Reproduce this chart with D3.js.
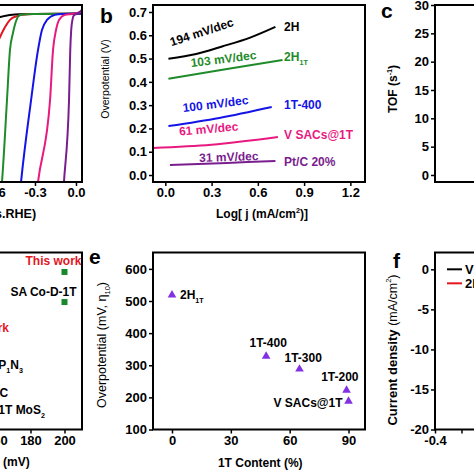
<!DOCTYPE html>
<html>
<head>
<meta charset="utf-8">
<script src="https://cdn.jsdelivr.net/npm/d3@7"></script>
<style>
    body { margin: 0; background: #fff; }
    svg { display: block; font-family: 'Liberation Sans', Arial, sans-serif; }
</style>
</head>
<body>
<svg id="chart" width="474" height="474"></svg>
<script>
// ---------- data ----------
// a: polarization curves [potential V vs RHE, current density mA/cm2]
const lsv2H    = [[-1.2, -6], [-0.7, -2], [-0.556, -0.7], [-0.483, -0.24], [-0.41, -0.05], [-0.3, 0], [0.05, 0.1]];
const lsvRed   = [[-0.8, -25], [-0.65, -13], [-0.556, -5.5], [-0.519, -3.1], [-0.483, -1.4], [-0.432, -0.5], [-0.358, -0.05], [-0.3, 0], [0.05, 0.1]];
const lsv2H1T  = [[-0.58, -50], [-0.541, -39.8], [-0.505, -20.6], [-0.483, -8.6], [-0.461, -4.5], [-0.41, -0.24], [-0.358, -0.03], [-0.3, 0], [0.05, 0.1]];
const lsv1T400 = [[-0.42, -46], [-0.402, -40], [-0.329, -20.6], [-0.278, -8.6], [-0.249, -3.8], [-0.212, -1.4], [-0.154, -0.2], [-0.1, 0], [0.05, 0.1]];
const lsvVSAC  = [[-0.3, -46], [-0.278, -40], [-0.19, -20.6], [-0.168, -8.6], [-0.146, -3.8], [-0.124, -1.4], [-0.08, -0.2], [-0.03, 0], [0.05, 0.6]];
const lsvPtC   = [[-0.1, -46], [-0.088, -40], [-0.051, -20.6], [-0.042, -8.6], [-0.035, -3.8], [-0.026, -1.4], [-0.015, -0.3], [0.015, 0.2], [0.05, 1.2]];
const lsvTicksX = [-0.6, -0.3, 0.0];

// b: Tafel plots [log j, overpotential V]
const tafelNames  = ['2H', '2H_{1T}', '1T-400', 'V SACs@1T', 'Pt/C 20%'];
const tafelSlopes = ['194 mV/dec', '103 mV/dec', '100 mV/dec', '61 mV/dec', '31 mV/dec'];
const tafel2H     = [[0.02, 0.499], [0.2, 0.52], [0.368, 0.552], [0.55, 0.59], [0.714, 0.636]];
const tafel2H1T   = [[0.02, 0.413], [0.4, 0.455], [0.76, 0.494]];
const tafel1T400  = [[0.02, 0.21], [0.35, 0.245], [0.69, 0.292]];
const tafelVSAC   = [[-0.1, 0.116], [0.3, 0.13], [0.73, 0.163]];
const tafelPtC    = [[0.03, 0.043], [0.4, 0.052], [0.714, 0.06]];
const tafelTicksX = [0.0, 0.3, 0.6, 0.9, 1.2];
const tafelTicksY = [0.0, 0.1, 0.2, 0.3, 0.4, 0.5, 0.6, 0.7];

// c: TOF
const tofTicksY = [0, 5, 10, 15, 20, 25, 30];

// d: comparison with reported catalysts
const compNames = ['This work', 'SA Co-D-1T', 'This work', 'Co_{1}P_{1}N_{3}', 'Pt/C', 'Co-1T MoS_{2}'];
const compX     = [200, 200, 129.7, 144.6, 148, 144.6];
const compY     = [8.9, 7.2, 5.73, 3.64, 2.06, 1.1];
const compTicksX = [100, 120, 140, 160, 180, 200];

// e: overpotential vs 1T content
const contentNames = ['2H_{1T}', '1T-400', '1T-300', '1T-200', 'V SACs@1T'];
const contentX = [0, 48, 65, 89, 90];
const contentY = [519, 328, 288, 222, 188];
const contentTicksX = [0, 30, 60, 90];
const contentTicksY = [100, 200, 300, 400, 500, 600];

// f: legend + axes
const fLegend = ['V SACs@1T', '2H_{1T}'];
const fTicksY = [0, -5, -10, -15, -20];

// ---------- styles / layout ----------
const black = '#000', red = '#e3161f', green = '#1f8b2a', blue = '#1414e6',
      pink = '#e8197f', purple = '#7a1d8e', violet = '#8230e4', sqGreen = '#18892b';
const lsvSeries = [[lsv2H, black], [lsvRed, red], [lsv2H1T, green], [lsv1T400, blue], [lsvVSAC, pink], [lsvPtC, purple]];
const tafelSeries = [tafel2H, tafel2H1T, tafel1T400, tafelVSAC, tafelPtC];
const tafelColors = [black, green, blue, pink, purple];
// slope annotation: centre (px) and rotation
const tafelNote = [[203, 36, -18], [224, 63, -7], [216, 108, -7], [209, 133, -5], [229, 161, -2]];
const tafelLabelY = [31, 61, 109, 139, 166];
// d label placement [dx, dy, anchor]
const compLab = [[-11, -7, 'middle'], [-21, -6, 'middle'], [8, 4, 'start'], [8, 4, 'start'], [8, 4, 'start'], [8, 4, 'start']];
// e label placement
const contentLab = [[8, 4, 'start'], [2, -9, 'middle'], [-15, -7, 'start'], [12, -9, 'end'], [-6, 6, 'end']];

const W = 212, H = 177;
const rowTop = [5, 252.5];
const colLeft = [-130, 153, 435];
const tickFont = 13, labFont = 12;

const svg = d3.select('#chart');

// subscripts / superscripts written as _{..} and ^{..}
const richText = (text, str, fs) => {
    const parts = str.split(/(_\{[^}]*\}|\^\{[^}]*\})/).filter(s => s !== '');
    let off = 0;
    parts.forEach(p => {
        let dy = 0, size = fs, t = p;
        if (p[0] === '_') { t = p.slice(2, -1); dy = fs * 0.3; size = fs * 0.6; }
        else if (p[0] === '^') { t = p.slice(2, -1); dy = -fs * 0.45; size = fs * 0.6; }
        text.append('tspan').attr('dy', dy - off).attr('font-size', size).text(t);
        off = dy;
    });
};

const makePanel = (col, row) => svg.append('g')
    .attr('transform', `translate(${colLeft[col]},${rowTop[row]})`);

const frame = g => g.append('rect')
    .attr('width', W).attr('height', H)
    .attr('fill', 'none').attr('stroke', '#000').attr('stroke-width', 2);

const styleAxis = (sel) => {
    sel.select('.domain').remove();
    sel.selectAll('.tick line').attr('stroke', '#000').attr('stroke-width', 1.5);
    sel.selectAll('.tick text')
        .attr('font-size', tickFont).attr('font-weight', 'bold')
        .attr('font-family', 'Liberation Sans, Arial, sans-serif').attr('fill', '#000');
};

const xAxis = (g, x, ticks, fmt) => {
    g.append('g').attr('transform', `translate(0,${H})`)
        .call(d3.axisBottom(x).tickValues(ticks).tickSize(4).tickPadding(2).tickFormat(fmt))
        .call(styleAxis);
};
const yAxis = (g, y, ticks, fmt) => {
    g.append('g')
        .call(d3.axisLeft(y).tickValues(ticks).tickSize(4).tickPadding(2).tickFormat(fmt))
        .call(styleAxis);
};

const panelLetter = (x, y, s) => svg.append('text')
    .attr('x', x).attr('y', y).attr('font-size', 21).attr('font-weight', 'bold').text(s);

const fmt1 = d => d.toFixed(1);
const fmt0 = d => String(d);

// ---------- a ----------
{
    const g = makePanel(0, 0);
    const x = d3.scaleLinear().domain([-1.507, 0.044]).range([0, W]);
    const y = d3.scaleLinear().domain([-40, 2.15]).range([H, 0]);
    const clip = svg.append('clipPath').attr('id', 'clipA');
    clip.append('rect').attr('width', W).attr('height', H);
    const line = d3.line().x(d => x(d[0])).y(d => y(d[1])).curve(d3.curveMonotoneX);
    const lines = g.append('g').attr('clip-path', 'url(#clipA)');
    lsvSeries.forEach(([d, c]) => {
        lines.append('path').attr('d', line(d))
            .attr('fill', 'none').attr('stroke', c).attr('stroke-width', 2);
    });
    frame(g);
    xAxis(g, x, lsvTicksX, fmt1);
    g.append('text').attr('x', W / 2).attr('y', H + 36).attr('text-anchor', 'middle')
        .attr('font-size', labFont + 0.5).attr('font-weight', 'bold').text('Potential (V vs.RHE)');
}

// ---------- b ----------
{
    const g = makePanel(1, 0);
    const x = d3.scaleLinear().domain([-0.08, 1.295]).range([0, W]);
    const y = d3.scaleLinear().domain([-0.03, 0.73]).range([H, 0]);
    const line = d3.line().x(d => x(d[0])).y(d => y(d[1])).curve(d3.curveMonotoneX);
    const clip = svg.append('clipPath').attr('id', 'clipB');
    clip.append('rect').attr('width', W).attr('height', H);
    const lines = g.append('g').attr('clip-path', 'url(#clipB)');
    tafelSeries.forEach((d, i) => {
        lines.append('path').attr('d', line(d))
            .attr('fill', 'none').attr('stroke', tafelColors[i]).attr('stroke-width', 2);
    });
    tafelSlopes.forEach((s, i) => {
        const [cx, cy, r] = tafelNote[i];
        svg.append('text').attr('transform', `translate(${cx},${cy}) rotate(${r})`)
            .attr('text-anchor', 'middle').attr('font-size', labFont).attr('font-weight', 'bold')
            .attr('fill', tafelColors[i]).text(s);
    });
    tafelNames.forEach((s, i) => {
        const t = g.append('text').attr('x', x(0.77)).attr('y', tafelLabelY[i] - rowTop[0])
            .attr('font-size', labFont).attr('font-weight', 'bold').attr('fill', tafelColors[i]);
        richText(t, s, labFont);
    });
    frame(g);
    xAxis(g, x, tafelTicksX, fmt1);
    yAxis(g, y, tafelTicksY, fmt1);
    const t = g.append('text').attr('x', W / 2 + 3).attr('y', H + 36).attr('text-anchor', 'middle')
        .attr('font-size', labFont).attr('font-weight', 'bold');
    richText(t, 'Log[ j (mA/cm^{2})]', labFont);
    g.append('text').attr('transform', `translate(-44,${79 - rowTop[0]}) rotate(-90)`)
        .attr('text-anchor', 'middle').attr('font-size', 10.5).text('Overpotential (V)');
    panelLetter(100, 23, 'b');
}

// ---------- c ----------
{
    const g = makePanel(2, 0);
    const y = d3.scaleLinear().domain([-1.24, 30]).range([H, 0]);
    frame(g);
    yAxis(g, y, tofTicksY, fmt0);
    const t = g.append('text').attr('transform', `translate(-38,${89 - rowTop[0]}) rotate(-90)`)
        .attr('text-anchor', 'middle').attr('font-size', labFont).attr('font-weight', 'bold');
    richText(t, 'TOF (s^{-1})', labFont);
    panelLetter(381, 18, 'c');
}

// ---------- d ----------
{
    const g = makePanel(0, 1);
    const x = d3.scaleLinear().domain([85.6, 210.3]).range([0, W]);
    const y = d3.scaleLinear().domain([0, 10]).range([H, 0]);
    g.append('g').selectAll('path')
        .data(compX.slice(0, 2))
        .join('path')
        .attr('transform', (d, i) => `translate(${x(d)},${y(compY[i])})`)
        .attr('d', d3.symbol(d3.symbolSquare, 36))
        .attr('fill', sqGreen);
    compNames.forEach((s, i) => {
        const [dx, dy, anchor] = compLab[i];
        const t = g.append('text').attr('x', x(compX[i]) + dx).attr('y', y(compY[i]) + dy)
            .attr('text-anchor', anchor).attr('font-size', labFont).attr('font-weight', 'bold')
            .attr('fill', s === 'This work' ? red : '#000');
        richText(t, s, labFont);
    });
    frame(g);
    xAxis(g, x, compTicksX, fmt0);
    g.append('text').attr('x', W / 2).attr('y', H + 36).attr('text-anchor', 'middle')
        .attr('font-size', labFont).attr('font-weight', 'bold').text('Overpotential (mV)');
}

// ---------- e ----------
{
    const g = makePanel(1, 1);
    const x = d3.scaleLinear().domain([-9.68, 98.4]).range([0, W]);
    const y = d3.scaleLinear().domain([100, 651]).range([H, 0]);
    g.append('g').selectAll('path')
        .data(contentX)
        .join('path')
        .attr('transform', (d, i) => `translate(${x(d)},${y(contentY[i])})`)
        .attr('d', d3.symbol(d3.symbolTriangle, 32))
        .attr('fill', violet);
    contentNames.forEach((s, i) => {
        const [dx, dy, anchor] = contentLab[i];
        const t = g.append('text').attr('x', x(contentX[i]) + dx).attr('y', y(contentY[i]) + dy)
            .attr('text-anchor', anchor).attr('font-size', labFont).attr('font-weight', 'bold');
        richText(t, s, labFont);
    });
    frame(g);
    xAxis(g, x, contentTicksX, fmt0);
    yAxis(g, y, contentTicksY, fmt0);
    g.append('text').attr('x', x(45)).attr('y', H + 37).attr('text-anchor', 'middle')
        .attr('font-size', labFont).attr('font-weight', 'bold').text('1T Content (%)');
    const t = g.append('text').attr('transform', `translate(-47,${345 - rowTop[1]}) rotate(-90)`)
        .attr('text-anchor', 'middle').attr('font-size', 12.5);
    richText(t, 'Overpotential (mV, η_{10})', 12.5);
    panelLetter(89, 264, 'e');
}

// ---------- f ----------
{
    const g = makePanel(2, 1);
    const x = d3.scaleLinear().domain([-0.4, 0.0]).range([0, W]);
    const y = d3.scaleLinear().domain([-20, 2.1]).range([H, 0]);
    frame(g);
    g.append('g').attr('transform', `translate(0,${H})`)
        .call(d3.axisBottom(x).tickValues([-0.4, -0.35]).tickSize(4).tickPadding(2)
            .tickFormat(d => d === -0.4 ? '-0.4' : ''))
        .call(styleAxis);
    yAxis(g, y, fTicksY, fmt0);
    fLegend.forEach((s, i) => {
        const ly = y(0) + i * 14;
        g.append('line').attr('x1', 12).attr('x2', 27).attr('y1', ly).attr('y2', ly)
            .attr('stroke', i === 0 ? black : red).attr('stroke-width', 2);
        const t = g.append('text').attr('x', 30).attr('y', ly + 4.5)
            .attr('font-size', 13).attr('font-weight', 'bold');
        richText(t, s, 13);
    });
    const t = g.append('text').attr('transform', `translate(-38,${350 - rowTop[1]}) rotate(-90)`)
        .attr('text-anchor', 'middle').attr('font-size', 13).attr('font-weight', 'bold');
    t.append('tspan').text('Current density ');
    const u = t.append('tspan').attr('font-weight', 'normal');
    richText(u, '(mA/cm^{2})', 12.5);
    panelLetter(393, 268, 'f');
}
</script>
</body>
</html>
